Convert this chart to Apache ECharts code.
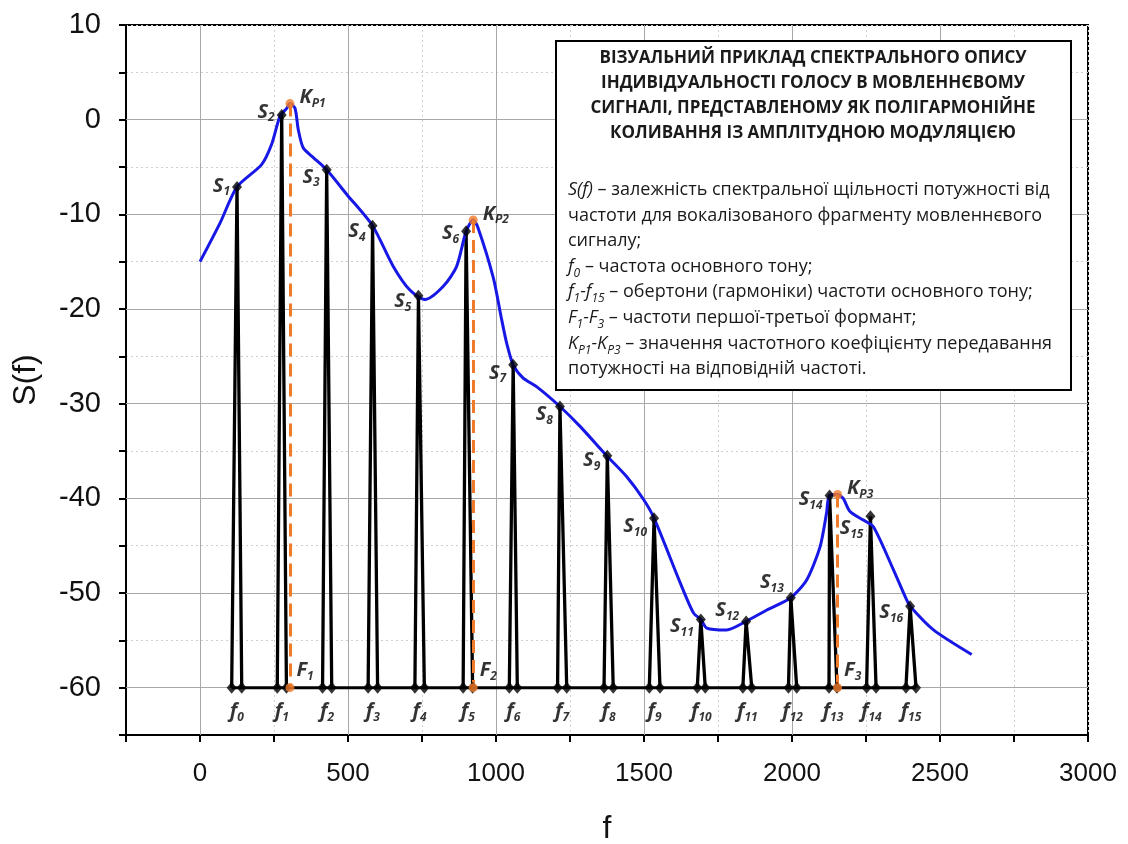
<!DOCTYPE html>
<html><head><meta charset="utf-8">
<script src="https://cdn.jsdelivr.net/npm/echarts@6/dist/echarts.min.js"></script>
<style>html,body{margin:0;padding:0;background:#fff}#c{width:1128px;height:844px}</style>
</head><body><div id="c"></div>
<script>
// ---- data ----
const harmLabels = ['0','1','2','3','4','5','6','7','8','9','10','11','12','13','14','15'];
const baseLeft  = [107, 261, 414, 568, 726, 889, 1045, 1208, 1365, 1518, 1680, 1834, 1988, 2125, 2252, 2385];
const baseRight = [141, 292, 445, 600, 758, 921, 1072, 1239, 1396, 1554, 1707, 1864, 2016, 2152, 2284, 2419];
const peakF = [125, 276, 428, 583, 738, 899, 1058, 1216, 1376, 1534, 1692, 1845, 1996, 2127, 2265, 2399];
const peakS = [-7.1, 0.5, -5.3, -11.2, -18.6, -11.8, -25.9, -30.3, -35.5, -42.1, -52.8, -53.0, -50.5, -39.7, -41.9, -51.4];
const peakLabels = ['1','2','3','4','5','6','7','8','9','10','11','12','13','14','15','16'];
const formantF = [304, 923, 2154];
const formantK = [1.7, -10.6, -39.6];
const formantLabels = ['1','2','3'];
const baseLevel = -60;
const envelopeF = [0, 68, 125, 208, 242, 270, 293, 304, 321, 332, 349, 383, 428, 496, 583, 653, 709, 760, 822, 867, 899, 923, 938, 991, 1019, 1036, 1058, 1092, 1137, 1216, 1284, 1374, 1441, 1498, 1534, 1622, 1667, 1692, 1712, 1779, 1845, 1915, 1996, 2050, 2095, 2117, 2126, 2154, 2173, 2196, 2241, 2275, 2342, 2387, 2399, 2478, 2607];
const envelopeS = [-15.0, -10.9, -7.1, -4.75, -2.6, 0.35, 1.2, 1.7, 1.2, -1.05, -3.0, -4.0, -5.3, -7.9, -11.2, -15.5, -18.0, -19.0, -17.6, -15.5, -11.8, -10.6, -11.3, -16.7, -21.1, -23.6, -25.9, -27.3, -28.2, -30.3, -32.4, -35.5, -37.7, -40.1, -42.1, -48.9, -52.1, -52.8, -53.7, -53.9, -53.0, -51.8, -50.5, -48.6, -45.1, -41.5, -39.7, -39.6, -40.0, -41.4, -42.3, -43.0, -47.5, -50.7, -51.4, -53.9, -56.5];
const xMajor = [0, 500, 1000, 1500, 2000, 2500];
const yMajor = [-60, -50, -40, -30, -20, -10, 0];
const titleLines = [
  'ВІЗУАЛЬНИЙ ПРИКЛАД СПЕКТРАЛЬНОГО ОПИСУ',
  'ІНДИВІДУАЛЬНОСТІ ГОЛОСУ В МОВЛЕННЄВОМУ',
  'СИГНАЛІ, ПРЕДСТАВЛЕНОМУ ЯК ПОЛІГАРМОНІЙНЕ',
  'КОЛИВАННЯ ІЗ АМПЛІТУДНОЮ МОДУЛЯЦІЄЮ'
];
const bodyLines = [
  '{i|S(f)}{n| – залежність спектральної щільності потужності від}',
  '{n|частоти для вокалізованого фрагменту мовленнєвого}',
  '{n|сигналу;}',
  '{i|f}{s|0}{n| – частота основного тону;}',
  '{i|f}{s|1}{i|-f}{s|15}{n| – обертони (гармоніки) частоти основного тону;}',
  '{i|F}{s|1}{i|-F}{s|3}{n| – частоти першої-третьої формант;}',
  '{i|K}{s|P1}{i|-K}{s|P3}{n| – значення частотного коефіцієнту передавання}',
  '{n|потужності на відповідній частоті.}'
];

// ---- label layout (styling only) ----
const sLabelDy = [-1, -3, 7, 6, 6, 2, 8, 8, 5, 8, 7, -11, -15, 4, 12, 6];

const LBL_FONT = '"Open Sans", "Noto Sans", sans-serif';
const labelRich = {
  m: {fontFamily: LBL_FONT, fontStyle: 'italic', fontWeight: 'bold', fontSize: 20, lineHeight: 24, color: '#000'},
  s: {fontFamily: LBL_FONT, fontStyle: 'italic', fontWeight: 'bold', fontSize: 12, lineHeight: 12, color: '#000', verticalAlign: 'bottom'}
};

const BLACK = '#000';
const BLUE = '#1717e6';
const ORANGE = '#ef7b2b';
const BOX_FONT = '"Open Sans", "Noto Sans", sans-serif';

const option = {
  animation: false,
  backgroundColor: '#fff',
  grid: {left: 126, right: 40, top: 25, bottom: 109, outerBoundsMode: 'none', containLabel: false,
    show: true, borderColor: '#000', borderWidth: 2, backgroundColor: 'transparent'},
  xAxis: {
    type: 'value', min: -250, max: 3000, interval: 250,
    name: 'f', nameLocation: 'middle', nameGap: 78,
    nameTextStyle: {fontFamily: '"Liberation Sans", Arial', fontSize: 32, color: '#111'},
    axisLine: {show: true, onZero: false, lineStyle: {color: '#000', width: 2}},
    axisTick: {show: true, inside: false, length: 7, lineStyle: {color: '#000', width: 2}},
    axisLabel: {margin: 26, fontFamily: '"Liberation Sans Narrow", "Liberation Sans", Arial', fontSize: 26, color: '#111',
      formatter: v => (v % 500 === 0 && v >= 0) ? String(v) : ''},
    splitLine: {show: true, lineStyle: {color: '#cfcfcf', width: 1, type: [2, 3]}}
  },
  yAxis: {
    type: 'value', min: -65, max: 10, interval: 5,
    name: 'S(f)', nameLocation: 'middle', nameGap: 84, nameRotate: 90,
    nameTextStyle: {fontFamily: '"Liberation Sans", Arial', fontSize: 32, color: '#111'},
    axisLine: {show: true, onZero: false, lineStyle: {color: '#000', width: 2}},
    axisTick: {show: true, inside: false, length: 7, lineStyle: {color: '#000', width: 2}},
    axisLabel: {margin: 25, fontFamily: '"Liberation Sans", Arial', fontSize: 29, color: '#111',
      formatter: v => (v % 10 === 0) ? String(v) : ''},
    splitLine: {show: true, lineStyle: {color: '#cfcfcf', width: 1, type: [2, 3]}}
  },
  series: [
    { // major grid lines
      type: 'line', data: [], z: 1, silent: true,
      markLine: {
        z: 1, silent: true, symbol: 'none', label: {show: false}, animation: false,
        lineStyle: {color: '#a8a8a8', width: 1, type: 'solid'},
        data: xMajor.map(v => ({xAxis: v})).concat(yMajor.map(v => ({yAxis: v})))
      }
    },
    { // harmonic spikes
      type: 'lines', coordinateSystem: 'cartesian2d', polyline: true, z: 3, silent: true,
      lineStyle: {color: BLACK, width: 3.3, opacity: 1},
      data: peakF.map((p, i) => ({coords: [[baseLeft[i], baseLevel], [p, peakS[i]], [baseRight[i], baseLevel]]}))
    },
    { // base line
      type: 'line', z: 3, symbol: 'none', silent: true,
      lineStyle: {color: BLACK, width: 3},
      data: [[baseLeft[0], baseLevel], [baseRight[baseRight.length - 1], baseLevel]]
    },
    { // envelope
      type: 'line', z: 4, symbol: 'none', smooth: 0.25, silent: true,
      lineStyle: {color: BLUE, width: 3},
      data: envelopeF.map((f, i) => [f, envelopeS[i]])
    },
    { // formant dashed lines
      type: 'lines', coordinateSystem: 'cartesian2d', z: 5, silent: true,
      lineStyle: {color: ORANGE, width: 3, type: [13, 7], opacity: 1},
      data: formantF.map((f, i) => ({coords: [[f, formantK[i]], [f, baseLevel]]}))
    },
    { // base diamonds
      type: 'scatter', z: 6, symbol: 'diamond', symbolSize: [10, 12], silent: true,
      itemStyle: {color: BLACK},
      data: baseLeft.map(v => [v, baseLevel]).concat(baseRight.map(v => [v, baseLevel]))
    },
    { // f labels
      type: 'scatter', z: 7, symbol: 'circle', symbolSize: 2, silent: true, itemStyle: {color: 'rgba(0,0,0,0)'},
      label: {show: true, position: 'bottom', distance: 11, rich: labelRich,
        formatter: p => '{m|f}{s|' + harmLabels[p.dataIndex] + '}'},
      data: baseLeft.map((v, i) => [(v + baseRight[i]) / 2, baseLevel])
    },
    { // peak diamonds with S labels
      type: 'scatter', z: 8, symbol: 'diamond', symbolSize: [10, 12], silent: true,
      itemStyle: {color: BLACK},
      label: {show: true, position: 'left', distance: 2, rich: labelRich,
        formatter: p => '{m|S}{s|' + peakLabels[p.dataIndex] + '}'},
      data: peakF.map((f, i) => ({value: [f, peakS[i]], label: {offset: [0, sLabelDy[i]]}}))
    },
    { // Kp dots
      type: 'scatter', z: 9, symbol: 'circle', symbolSize: 9, silent: true,
      itemStyle: {color: ORANGE},
      label: {show: true, position: 'right', distance: 5, offset: [0, -6], rich: labelRich,
        formatter: p => '{m|K}{s|P' + formantLabels[p.dataIndex] + '}'},
      data: formantF.map((f, i) => [f, formantK[i]])
    },
    { // F dots
      type: 'scatter', z: 9, symbol: 'circle', symbolSize: 9, silent: true,
      itemStyle: {color: ORANGE},
      label: {show: true, position: 'right', distance: 2, offset: [0, -17], rich: labelRich,
        formatter: p => '{m|F}{s|' + formantLabels[p.dataIndex] + '}'},
      data: formantF.map(f => [f, baseLevel])
    }
  ],
  graphic: [
    {type: 'rect', z: 100, shape: {x: 556, y: 41, width: 515, height: 349},
     style: {fill: '#fff', stroke: '#000', lineWidth: 2}},
    {type: 'text', z: 101, x: 813, y: 46,
     style: {text: titleLines.join('\n'), textAlign: 'center', textVerticalAlign: 'top',
       font: 'bold 17px ' + BOX_FONT, lineHeight: 25, fill: '#1a1a1a'}},
    {type: 'text', z: 101, x: 568, y: 177,
     style: {text: bodyLines.join('\n'), textAlign: 'left', textVerticalAlign: 'top',
       rich: {
         n: {fontFamily: BOX_FONT, fontSize: 18, lineHeight: 25.6, fill: '#1a1a1a'},
         i: {fontFamily: BOX_FONT, fontStyle: 'italic', fontSize: 18, lineHeight: 25.6, fill: '#1a1a1a'},
         s: {fontFamily: BOX_FONT, fontStyle: 'italic', fontSize: 12, lineHeight: 17, fill: '#1a1a1a', verticalAlign: 'bottom'}
       }}}
  ]
};
const chart = echarts.init(document.getElementById('c'), null, {renderer: 'canvas'});
chart.setOption(option);
</script></body></html>
